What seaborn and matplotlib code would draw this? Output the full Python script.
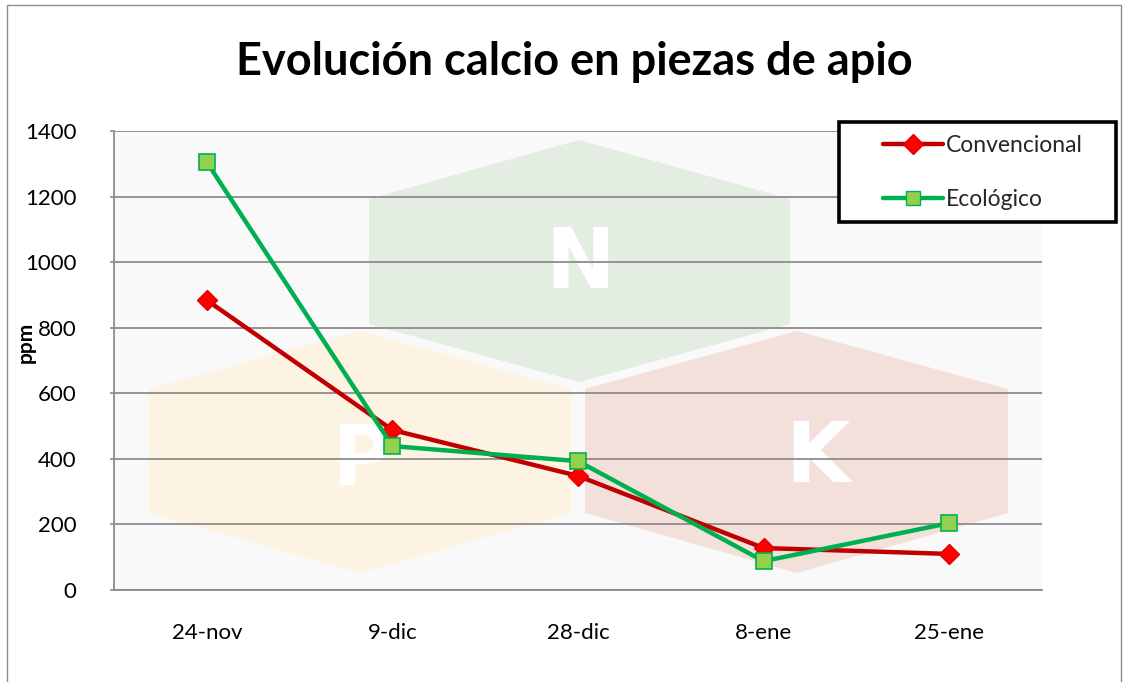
import matplotlib
matplotlib.use("Agg")
import matplotlib.pyplot as plt
import seaborn as sns
import pandas as pd
from matplotlib.patches import Polygon, Rectangle
from matplotlib.lines import Line2D

fechas = ["24-nov", "9-dic", "28-dic", "8-ene", "25-ene"]
convencional = [884, 488, 348, 128, 110]
ecologico = [1305, 439, 393, 88, 204]
yticks = [0, 200, 400, 600, 800, 1000, 1200, 1400]

sns.set_theme(style="white")
plt.rcParams["font.family"] = ["Lato", "DejaVu Sans"]

W, H = 1129, 682
fig = plt.figure(figsize=(W / 100, H / 100), dpi=100)
fig.patch.set_facecolor("white")

def fx(x):
    return x / W

def fy(y):
    return 1 - y / H

ax = fig.add_axes([fx(114), fy(590), fx(1042) - fx(114), fy(131) - fy(590)])
ax.set_facecolor("#f9f9f9")

# watermark hexagons (decoration)
def hexagon(cx, left, right, ytop, yc1, yc2, ybot, color):
    pts = [(cx, ytop), (right, yc1), (right, yc2), (cx, ybot), (left, yc2), (left, yc1)]
    return Polygon([(fx(a), fy(b)) for a, b in pts], closed=True,
                   transform=fig.transFigure, facecolor=color, edgecolor="none", zorder=0)

for poly in [hexagon(579, 369, 790, 140, 199, 324, 382, "#e3ede1"),
             hexagon(359, 149, 571, 331, 389, 513, 573, "#fcf3e2"),
             hexagon(797, 585, 1008, 331, 389, 513, 573, "#f3e0db")]:
    ax.add_patch(poly)
for letter, x, y in [("N", 580, 256), ("P", 362, 453), ("K", 818, 450)]:
    ax.text(fx(x), fy(y), letter, transform=fig.transFigure, ha="center", va="center_baseline",
            fontsize=60, fontweight="bold", color="white", zorder=0.2,
            family=["DejaVu Sans"])

df_c = pd.DataFrame({"fecha": fechas, "ppm": convencional})
df_e = pd.DataFrame({"fecha": fechas, "ppm": ecologico})

sns.lineplot(data=df_c, x="fecha", y="ppm", ax=ax, color="#c00000", lw=3.2,
             marker="D", markersize=10, markerfacecolor="#ff0000",
             markeredgecolor="#e00000", markeredgewidth=1, zorder=3)
sns.lineplot(data=df_e, x="fecha", y="ppm", ax=ax, color="#00b050", lw=3.2,
             marker="s", markersize=11, markerfacecolor="#92d050",
             markeredgecolor="#00b050", markeredgewidth=1.2, zorder=4)

ax.set_xlim(-0.5, 4.5)
ax.set_ylim(0, 1400)
ax.set_yticks(yticks)
ax.set_yticklabels([str(v) for v in yticks])
ax.yaxis.grid(True, color="#8c8c8c", lw=1.3, zorder=0.5)
ax.set_axisbelow(False)
for gl in ax.get_ygridlines():
    gl.set_zorder(0.5)
ax.xaxis.grid(False)
for s in ["top", "right"]:
    ax.spines[s].set_visible(False)
for s in ["left", "bottom"]:
    ax.spines[s].set_color("#8c8c8c")
    ax.spines[s].set_linewidth(1.3)
ax.tick_params(axis="y", length=3, width=1.2, color="#8c8c8c", labelsize=16, pad=24,
               labelcolor="black", direction="out", left=True)
ax.tick_params(axis="x", length=0, labelsize=16, pad=24, labelcolor="black")
ax.set_xlabel("")
ax.set_ylabel("ppm", fontsize=15, fontweight="bold", color="black")
ax.yaxis.set_label_coords((36 - 114) / (1042 - 114), (590 - 342) / (590 - 131))

fig.text(fx(574), fy(62), "Evolución calcio en piezas de apio", ha="center", va="center",
         fontsize=32.5, fontweight="bold", color="black")

# legend
handles = [Line2D([], [], color="#c00000", lw=3.2, marker="D", markersize=10,
                  markerfacecolor="#ff0000", markeredgecolor="#e00000"),
           Line2D([], [], color="#00b050", lw=3.2, marker="s", markersize=10,
                  markerfacecolor="#92d050", markeredgecolor="#00b050")]
leg = fig.legend(handles, ["Convencional", "Ecológico"], loc="upper left",
                 bbox_to_anchor=(fx(883), fy(135)), frameon=False, fontsize=16.5,
                 handlelength=2.6, handletextpad=0.15, labelspacing=1.45,
                 borderpad=0, borderaxespad=0)
fig.patches.append(Rectangle((fx(839), fy(222)), fx(1116) - fx(839), fy(122) - fy(222),
                             transform=fig.transFigure, facecolor="white",
                             edgecolor="black", lw=2.6, zorder=5))
leg.set_zorder(6)

# chart border
fig.patches.append(Rectangle((fx(7), fy(700)), fx(1121) - fx(7), fy(5) - fy(700),
                             transform=fig.transFigure, facecolor="none",
                             edgecolor="#8c8c8c", lw=1, zorder=1))

fig.savefig("out.png", dpi=100)
